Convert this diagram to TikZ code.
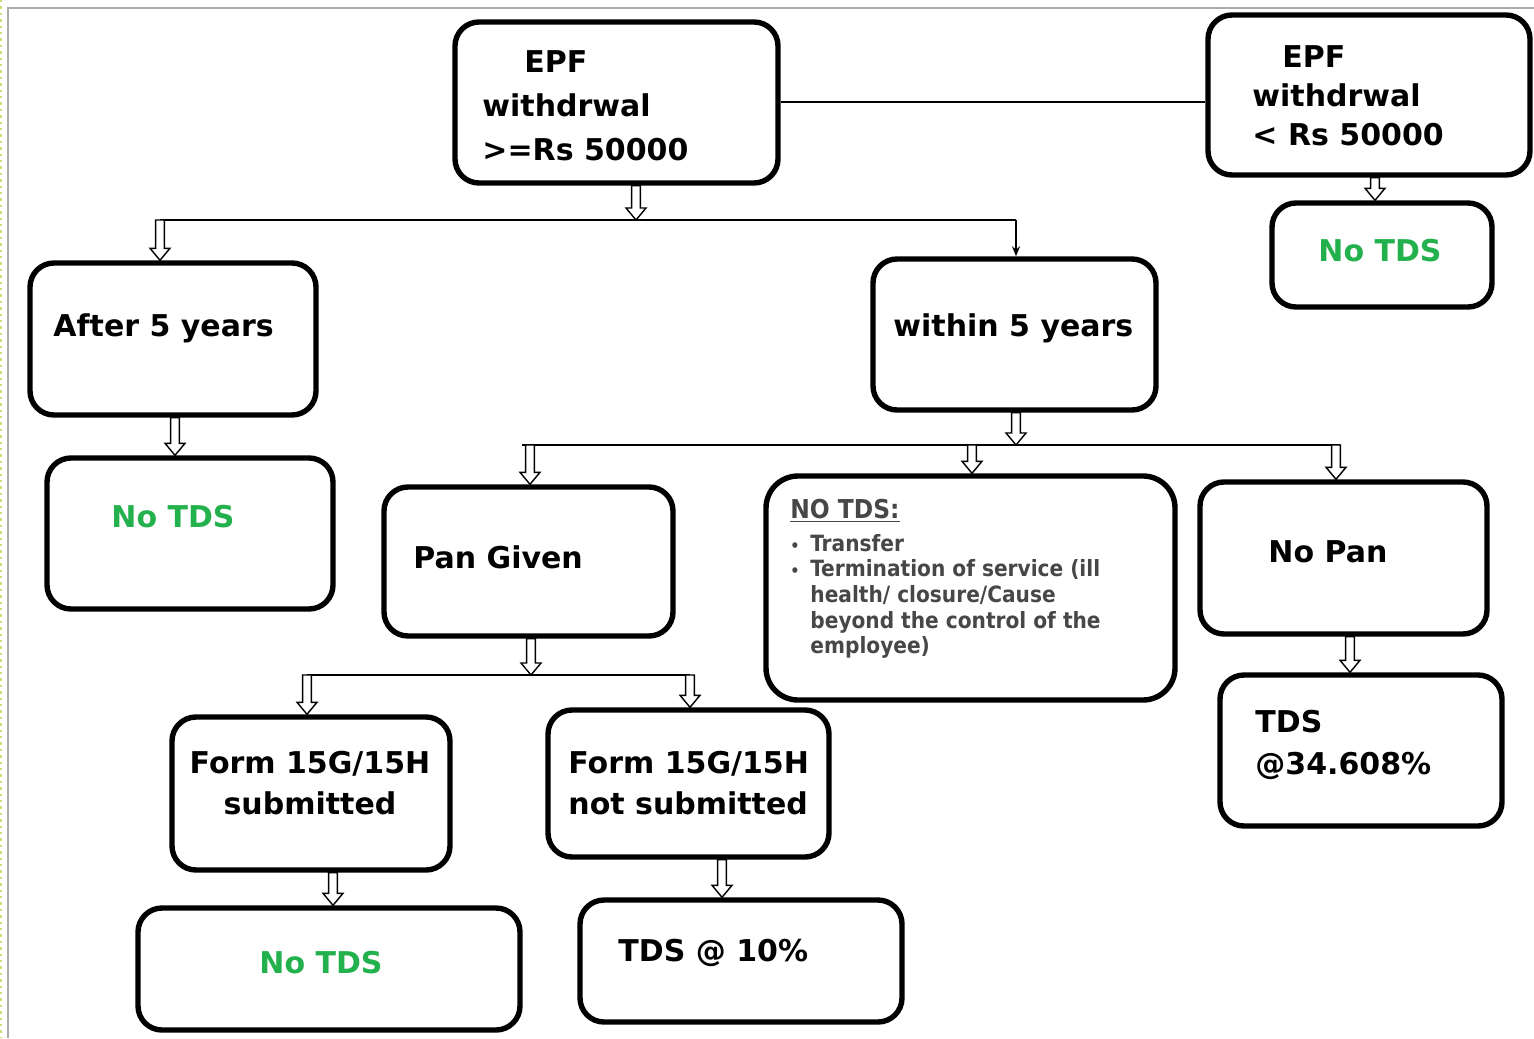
\documentclass[tikz,border=0pt]{standalone}
\usepackage{fontspec}
\setmainfont{DejaVu Sans}
\newfontfamily\condfont{DejaVu Sans Condensed}
\usetikzlibrary{calc,arrows.meta}
\definecolor{tdsgreen}{RGB}{34,177,76}
\definecolor{framegray}{RGB}{170,170,170}
\definecolor{dotgreen}{RGB}{200,220,120}
\newcommand\mkbox[6][]{\node[box,#1,minimum width={(#5-#3)*0.5pt},minimum height={(#6-#4)*0.5pt}] (#2) at ({(#3+#5)/2},{(#4+#6)/2}) {};}
\tikzset{
  box/.style={draw=black, line width=2.7pt, rounded corners=12pt, fill=white, inner sep=0pt},
  lbl/.style={font=\fontsize{15}{22}\selectfont\bfseries, inner sep=0pt, text=black},
  grn/.style={lbl, text=tdsgreen},
  wire/.style={draw=black, line width=1pt},
  thinarr/.style={draw=black, line width=0.8pt, -{Stealth[length=5pt,width=4pt]}},
  blk/.style={fill=white, draw=black, line width=0.7pt, line join=miter,
    to path={let \p1=(\tikztostart), \p2=(\tikztotarget) in
      (\x1-2.2pt,\y1) -- (\x1-2.2pt,\y2+6pt) -- (\x1-5pt,\y2+6pt) -- (\x1,\y2)
      -- (\x1+5pt,\y2+6pt) -- (\x1+2.2pt,\y2+6pt) -- (\x1+2.2pt,\y1) -- cycle}}
}
\begin{document}
\begin{tikzpicture}[x=0.5pt,y=-0.5pt]
\useasboundingbox (0,0) rectangle (1534,1038);
\fill[white] (0,0) rectangle (1534,1038);
\draw[dotgreen, dotted, line width=1.2pt] (1,0) -- (1,1038);
\draw[framegray, line width=0.8pt] (8,1038) -- (8,8) -- (1534,8);
% boxes
\mkbox{b1}{455}{22}{778}{183}
\mkbox{b2}{1208}{15}{1530}{175}
\mkbox{b3}{1272}{203}{1492}{307}
\mkbox{b4}{30}{263}{316}{415}
\mkbox{b5}{873}{259}{1156}{410}
\mkbox{b6}{47}{458}{333}{609}
\mkbox{b7}{384}{487}{673}{636}
\mkbox[rounded corners=16pt]{b8}{766}{476}{1175}{700}
\mkbox{b9}{1200}{482}{1487}{634}
\mkbox{b10}{1220}{675}{1502}{826}
\mkbox{b11}{172}{717}{450}{870}
\mkbox{b12}{548}{710}{829}{857}
\mkbox{b13}{138}{908}{520}{1030}
\mkbox{b14}{580}{900}{902}{1022}
% texts
\node[lbl, anchor=west, align=left, font=\fontsize{15}{22}\selectfont\bfseries] (t1) at (482,106) {\hspace*{21pt}EPF\\withdrwal\\>=Rs 50000};
\node[lbl, anchor=west, align=left, font=\fontsize{15}{19.5}\selectfont\bfseries] (t2) at (1252,96) {\hspace*{15pt}EPF\\withdrwal\\< Rs 50000};
\node[grn] (t3) at (1380,251) {No TDS};
\node[lbl, anchor=west] (t4) at (53,328) {After 5 years};
\node[lbl, anchor=west] (t5) at (893,328) {within 5 years};
\node[grn] (t6) at (173,517) {No TDS};
\node[lbl, anchor=west] (t7) at (413,557) {Pan Given};
\node[lbl, anchor=west] (t9) at (1268,552) {No Pan};
\node[lbl, anchor=west, align=left, font=\fontsize{15}{21}\selectfont\bfseries] (t10) at (1255,745) {TDS\\@34.608\%};
\node[lbl, align=center, font=\fontsize{15}{20.5}\selectfont\bfseries] (t11) at (310,783) {Form 15G/15H\\submitted};
\node[lbl, anchor=west, align=left, font=\fontsize{15}{20.5}\selectfont\bfseries] (t12) at (568,783) {Form 15G/15H\\not submitted};
\node[grn] (t13) at (321,963) {No TDS};
\node[lbl, anchor=west] (t14) at (618,953) {TDS @ 10\%};
\node[anchor=north west, inner sep=0pt, align=left, text=black!72,
      font=\condfont\bfseries\fontsize{11.2}{12.8}\selectfont] (t8) at (790,499)
 {{\fontsize{13}{13}\selectfont\underline{NO TDS:}}\\[3.5pt]
  \makebox[10pt][l]{\footnotesize •}Transfer\\
  \makebox[10pt][l]{\footnotesize •}Termination of service (ill\\
  \hspace*{10pt}health/ closure/Cause\\
  \hspace*{10pt}beyond the control of the\\
  \hspace*{10pt}employee)};
% junction coordinates
\coordinate (j1) at (636,220);
\coordinate (j1L) at (160,220);
\coordinate (j1R) at (1016,220);
\coordinate (j2) at (1016,445);
\coordinate (j2L) at (530,445);
\coordinate (j2M) at (972,445);
\coordinate (j2R) at (1336,445);
\coordinate (j2a) at (522,445);
\coordinate (j2b) at (1340,445);
\coordinate (j3) at (531,675);
\coordinate (j3L) at (307,675);
\coordinate (j3R) at (690,675);
\coordinate (xa) at (175,0);
\coordinate (xb) at (333,0);
\coordinate (xc) at (722,0);
\coordinate (xd) at (1350,0);
\coordinate (xe) at (1375,0);
% connectors
\draw[wire] (b1.east) -- (b1.east -| b2.west);
\draw[blk] (b2.south -| xe) to (b3.north -| xe);
\draw[wire] (j1L) -- (j1R);
\draw[blk] (b1.south -| j1) to (j1);
\draw[blk] (j1L) to (j1L |- b4.north);
\draw[thinarr] (j1R) -- (j1R |- b5.north);
\draw[blk] (b4.south -| xa) to (b6.north -| xa);
\draw[wire] (j2a) -- (j2b);
\draw[blk] (b5.south -| j2) to (j2);
\draw[blk] (j2L) to (j2L |- b7.north);
\draw[blk] (j2M) to (j2M |- b8.north);
\draw[blk] (j2R) to (j2R |- b9.north);
\draw[blk] (b9.south -| xd) to (b10.north -| xd);
\draw[wire] (j3L) -- (j3R);
\draw[blk] (b7.south -| j3) to (j3);
\draw[blk] (j3L) to (j3L |- b11.north);
\draw[blk] (j3R) to (j3R |- b12.north);
\draw[blk] (b11.south -| xb) to (b13.north -| xb);
\draw[blk] (b12.south -| xc) to (b14.north -| xc);
\end{tikzpicture}
\end{document}
